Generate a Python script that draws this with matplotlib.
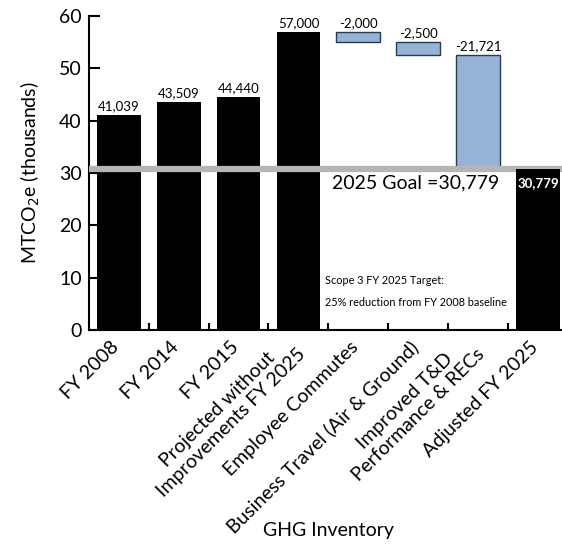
import matplotlib
matplotlib.use("Agg")
import matplotlib.pyplot as plt
import matplotlib.transforms as mtransforms
import numpy as np

categories = ["FY 2008", "FY 2014", "FY 2015", "Projected without\nImprovements FY 2025",
              "Employee Commutes", "Business Travel (Air & Ground)",
              "Improved T&D\nPerformance & RECs", "Adjusted FY 2025"]
totals = [41.039, 43.509, 44.440, 57.000]
reductions = [-2.000, -2.500, -21.721]
adjusted = 30.779
goal = 30.779
total_labels = ["41,039", "43,509", "44,440", "57,000"]
reduction_labels = ["-2,000", "-2,500", "-21,721"]
adjusted_label = "30,779"

plt.rcParams['font.family'] = ['Lato', 'DejaVu Sans']
narrow = ['Lato', 'DejaVu Sans']

fig = plt.figure(figsize=(5.62, 5.45), dpi=100)
ax = fig.add_axes([0.158, 0.394, 0.842, 0.577])

x = np.arange(len(categories))
w = 0.73

# black total bars
ax.bar(x[:4], totals, width=w, color='black', zorder=2)
for xi, v, lab in zip(x[:4], totals, total_labels):
    ax.annotate(lab, (xi, v), xytext=(0, 2), textcoords='offset points',
                ha='center', va='bottom', fontsize=9.5, family=narrow)

# waterfall reduction bars
level = totals[-1]
for i, (d, lab) in enumerate(zip(reductions, reduction_labels)):
    xi = x[4 + i]
    top = level
    bottom = level + d
    ax.bar(xi, d, bottom=top, width=w, color='#95b3d7', edgecolor='#2b3a4a',
           linewidth=1.0, zorder=2)
    ax.annotate(lab, (xi, top), xytext=(0, 2), textcoords='offset points',
                ha='center', va='bottom', fontsize=9.5, family=narrow)
    level = bottom

# goal line
ax.axhline(goal, color='#b5b5b5', linewidth=4.5, zorder=3)

# adjusted bar
ax.bar(x[7], adjusted, width=w, color='black', zorder=4)
ax.text(x[7], adjusted - 1.6, adjusted_label, color='white', ha='center', va='top',
        fontsize=9.5, fontweight='bold', family=narrow, zorder=5)

ax.text(4.95, adjusted - 1.0, "2025 Goal =30,779", ha='center', va='top', fontsize=14,
        zorder=5)
ax.text(3.45, 9.55, "Scope 3 FY 2025 Target:", ha='left', va='center', fontsize=7.8,
        family=narrow)
ax.text(3.45, 5.35, "25% reduction from FY 2008 baseline", ha='left', va='center',
        fontsize=7.8, family=narrow)

ax.set_xlim(-0.5, 7.4)
ax.set_ylim(0, 60)
ax.set_yticks(np.arange(0, 61, 10))
ax.tick_params(axis='y', direction='in', length=8, width=1.5, labelsize=14, pad=5)
ax.set_xticks(x)
ax.set_xticklabels(categories, rotation=45, ha='right', va='center', rotation_mode='anchor',
                   fontsize=14, multialignment='center', linespacing=1.15)
ax.tick_params(axis='x', which='major', length=0, pad=11)
ax.set_xticks(np.arange(0.5, 7, 1), minor=True)
ax.tick_params(axis='x', which='minor', direction='in', length=5, width=1.5)
shift = mtransforms.ScaledTranslation(-3 / 100, 1 / 100, fig.dpi_scale_trans)
for lbl in ax.get_xticklabels():
    lbl.set_transform(lbl.get_transform() + shift)

for s in ['top', 'right']:
    ax.spines[s].set_visible(False)
for s in ['left', 'bottom']:
    ax.spines[s].set_linewidth(1.5)

ax.set_ylabel("MTCO$_2$e (thousands)", fontsize=14, labelpad=12)
ax.set_xlabel("GHG Inventory", fontsize=14)
ax.xaxis.set_label_coords(0.506, -0.611)

fig.savefig("out.png", dpi=100)
